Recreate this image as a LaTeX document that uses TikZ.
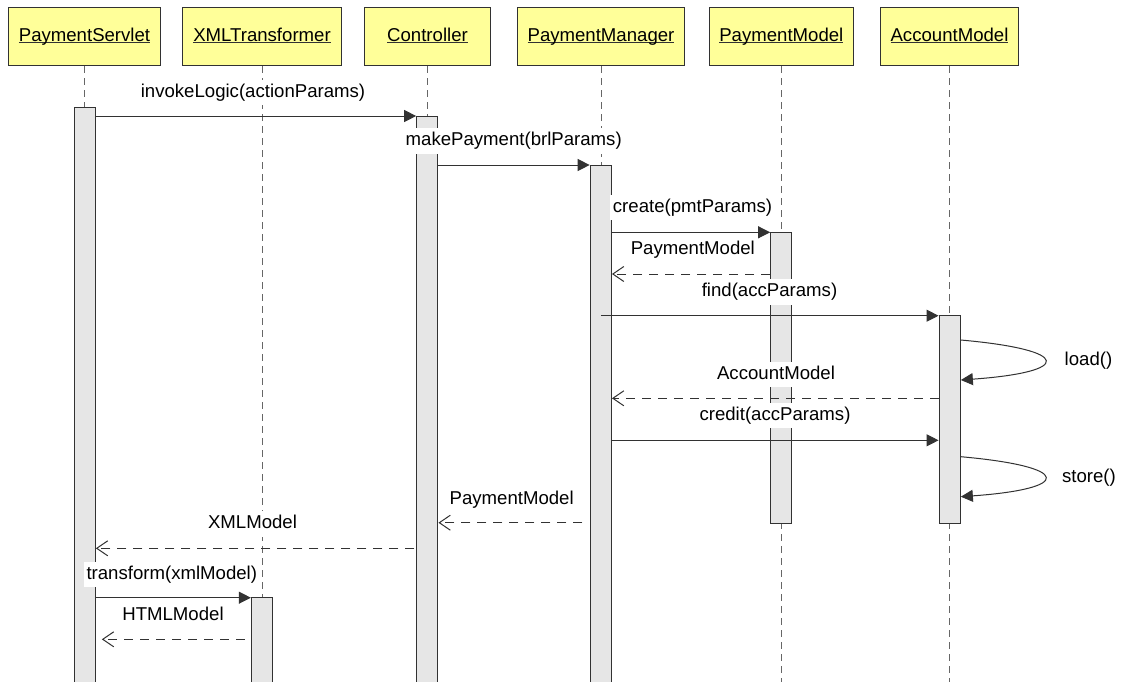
\documentclass[tikz,border=0pt]{standalone}
\usepackage{fontspec}
\setmainfont{Liberation Sans}
\usetikzlibrary{arrows.meta}

\definecolor{headyellow}{RGB}{255,255,153}
\definecolor{barfill}{RGB}{230,230,230}
\definecolor{inkgray}{RGB}{50,50,50}

% underlined object name, rule sitting just under the baseline
\newcommand\objname[1]{\setbox0\hbox{#1}\rlap{\color{inkgray}\rule[-1.6pt]{\wd0}{1pt}}\box0}

\begin{document}
\begin{tikzpicture}[x=1pt,y=-1pt,
  font=\fontsize{18.6}{22}\selectfont,
  head/.style={draw=inkgray, fill=headyellow, line width=1.2pt,
    minimum height=58.7pt, inner sep=0pt, text height=13.5pt, text depth=4pt},
  life/.style={draw=black!60, line width=1pt, dash pattern=on 7pt off 5pt},
  bar/.style={draw=inkgray, fill=barfill, line width=1pt,
    minimum width=21.3pt, inner sep=0pt, anchor=north},
  call/.style={draw=inkgray, line width=1pt, -{Triangle[length=12pt,width=12pt]}},
  reply/.style={draw=inkgray, line width=1pt, dash pattern=on 9pt off 7pt,
    -{Straight Barb[length=11pt,width=15pt,line width=1pt]}},
  lbl/.style={fill=white, inner xsep=3pt, inner ysep=4pt,
    text height=13.5pt, text depth=4pt, anchor=base}]

\clip (0,0) rectangle (1129,681);
\fill[white] (0,0) rectangle (1129,681);

% object headers
\node[head, minimum width=152.7pt] (hS)  at (84.5,36.5)  {\objname{PaymentServlet}};
\node[head, minimum width=159.7pt] (hX)  at (262,36.5)   {\objname{XMLTransformer}};
\node[head, minimum width=126pt]   (hC)  at (427.5,36.5) {\objname{Controller}};
\node[head, minimum width=166.7pt] (hM)  at (601,36.5)   {\objname{PaymentManager}};
\node[head, minimum width=144pt]   (hPM) at (781.3,36.5) {\objname{PaymentModel}};
\node[head, minimum width=137.7pt] (hA)  at (949.5,36.5) {\objname{AccountModel}};

% lifelines
\coordinate (bot) at (0,690);
\foreach \h in {hS,hX,hC,hM,hPM,hA}
  \draw[life] (\h.south) -- (\h.south |- bot);

% activation bars
\node[bar, minimum height=590pt]   (bS)  at (84.7,107.3)  {};
\node[bar, minimum height=580pt]   (bC)  at (427.3,115.7) {};
\node[bar, minimum height=530pt]   (bM)  at (600.8,165)   {};
\node[bar, minimum height=290.4pt] (bPM) at (781.3,232.3) {};
\node[bar, minimum height=207.7pt] (bA)  at (949.7,315)   {};
\node[bar, minimum height=100pt]   (bX)  at (262,597.3)   {};

% message rows
\coordinate (y1) at (0,116);
\coordinate (y2) at (0,165);
\coordinate (y3) at (0,232.3);
\coordinate (y4) at (0,274);
\coordinate (y5) at (0,315.7);
\coordinate (y6a) at (0,340);
\coordinate (y6b) at (0,380);
\coordinate (y7) at (0,398.3);
\coordinate (y8) at (0,440.3);
\coordinate (y9a) at (0,456.7);
\coordinate (y9b) at (0,496.7);
\coordinate (y10) at (0,522.7);
\coordinate (y11) at (0,548.3);
\coordinate (y12) at (0,597.7);
\coordinate (y13) at (0,639.3);

% messages
\draw[call]  (bS.east |- y1) -- (bC.west |- y1);
\draw[call]  (bC.east |- y2) -- (bM.west |- y2);
\draw[call]  (bM.east |- y3) -- (bPM.west |- y3);
\draw[reply] (bPM.west |- y4) -- (bM.east |- y4);
\draw[call]  (bM.north |- y5) -- (bA.west |- y5);
\draw[call]  (bA.east |- y6a) .. controls +(112,10) and +(112,-8) .. (bA.east |- y6b);
\draw[reply] (bA.west |- y7) -- (bM.east |- y7);
\draw[call]  (bM.east |- y8) -- (bA.west |- y8);
\draw[call]  (bA.east |- y9a) .. controls +(112,10) and +(112,-8) .. (bA.east |- y9b);
\draw[reply, shorten <=7.3pt] (bM.west |- y10) -- (bC.east |- y10);
\draw[reply, shorten <=1.7pt] (bC.west |- y11) -- (bS.east |- y11);
\draw[call]  (bS.east |- y12) -- (bX.west |- y12);
\draw[reply, shorten <=6.3pt, shorten >=6pt] (bX.west |- y13) -- (bS.east |- y13);

% message labels
\node[lbl] (l1)  at (253,97)      {invokeLogic(actionParams)};
\node[lbl] (l2)  at (513.7,145.5) {makePayment(brlParams)};
\node[lbl] (l3)  at (692.5,212)   {create(pmtParams)};
\node[lbl] (l4)  at (692.8,254)   {PaymentModel};
\node[lbl] (l5)  at (769.5,296.5) {find(accParams)};
\node[lbl] (l6)  at (1088.5,365)  {load()};
\node[lbl] (l7)  at (776,379.3)   {AccountModel};
\node[lbl] (l8)  at (775,420)     {credit(accParams)};
\node[lbl] (l9)  at (1089,482)    {store()};
\node[lbl] (l10) at (511.7,504.3) {PaymentModel};
\node[lbl] (l11) at (252.5,528.5) {XMLModel};
\node[lbl] (l12) at (171.8,579)   {transform(xmlModel)};
\node[lbl] (l13) at (173,620)     {HTMLModel};
\end{tikzpicture}
\end{document}
